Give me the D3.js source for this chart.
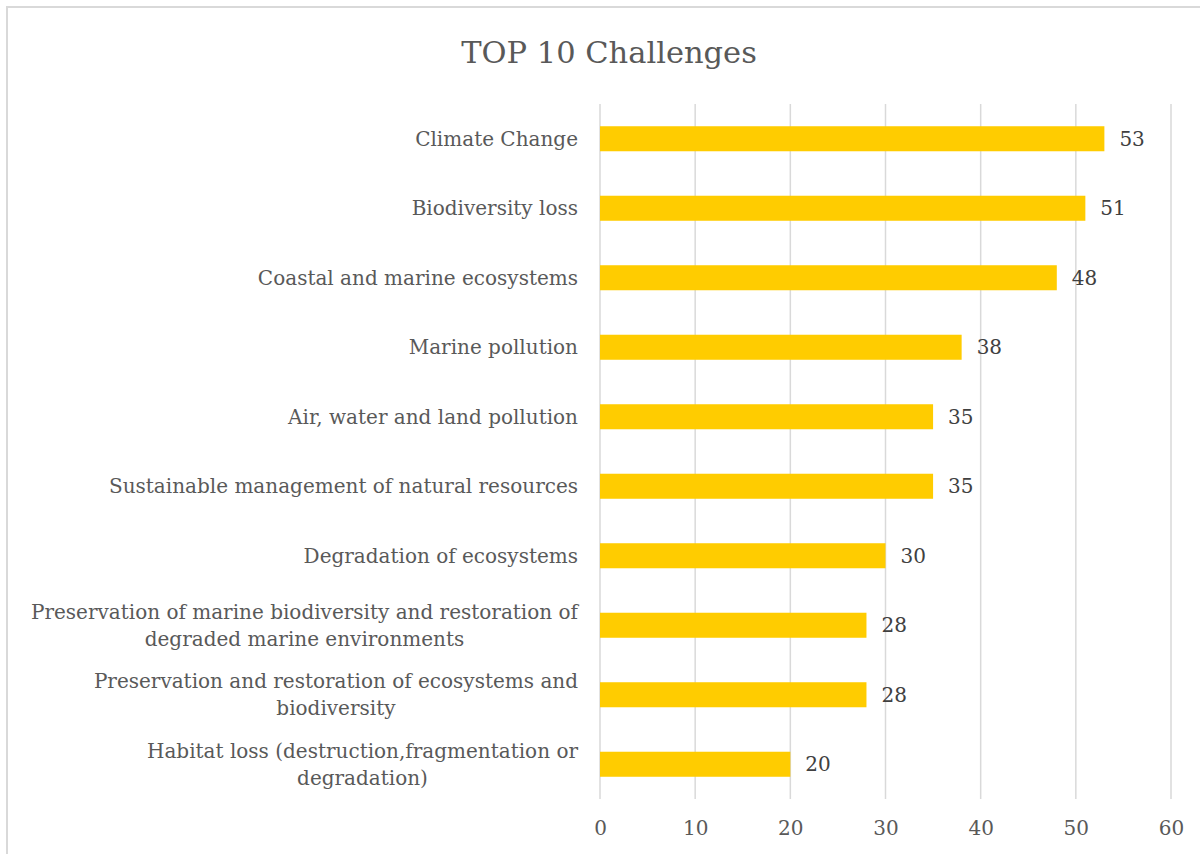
<!DOCTYPE html>
<html>
<head>
<meta charset="utf-8">
<script src="https://cdn.jsdelivr.net/npm/d3@7/dist/d3.min.js"></script>
<style>
  html, body { margin: 0; padding: 0; background: #fff; }
  svg { display: block; }
</style>
</head>
<body>
<svg id="chart" width="1200" height="854"></svg>
<script>
const categories = [
  "Climate Change",
  "Biodiversity loss",
  "Coastal and marine ecosystems",
  "Marine pollution",
  "Air, water and land pollution",
  "Sustainable management of natural resources",
  "Degradation of ecosystems",
  "Preservation of marine biodiversity and restoration of degraded marine environments",
  "Preservation and restoration of ecosystems and biodiversity",
  "Habitat loss (destruction,fragmentation or degradation)"
];
const values = [53, 51, 48, 38, 35, 35, 30, 28, 28, 20];
const xTicks = [0, 10, 20, 30, 40, 50, 60];
const title = "TOP 10 Challenges";

const FONT = "'DejaVu Serif', serif";
const FS = 20;
const svg = d3.select("#chart");

// chart border
svg.append("rect")
  .attr("x", 7).attr("y", 7).attr("width", 1200).attr("height", 900)
  .attr("fill", "none").attr("stroke", "#d9d9d9").attr("stroke-width", 2);

const x = d3.scaleLinear().domain([0, 60]).range([600, 1171]);
const y = d3.scaleBand().domain(categories).range([104, 799]).paddingInner(0.64).paddingOuter(0.32);

// gridlines
svg.append("g").selectAll("line").data(xTicks).join("line")
  .attr("x1", d => x(d)).attr("x2", d => x(d))
  .attr("y1", 104).attr("y2", 799)
  .attr("stroke", "#d9d9d9").attr("stroke-width", 1.5);

// bars
svg.append("g").selectAll("rect").data(values).join("rect")
  .attr("x", x(0))
  .attr("y", (d, i) => y(categories[i]))
  .attr("width", d => x(d) - x(0))
  .attr("height", y.bandwidth())
  .attr("fill", "#ffcc00");

// value labels
svg.append("g").selectAll("text").data(values).join("text")
  .attr("x", d => x(d) + 15)
  .attr("y", (d, i) => y(categories[i]) + y.bandwidth() / 2)
  .attr("dy", "0.35em")
  .attr("font-family", FONT).attr("font-size", FS)
  .attr("fill", "#404040")
  .text(d => d);

// x axis tick labels
const xAxis = d3.axisBottom(x).tickValues(xTicks).tickSize(0).tickPadding(0);
const gx = svg.append("g").attr("transform", "translate(0,821)").call(xAxis);
gx.select(".domain").remove();
gx.selectAll("text")
  .attr("font-family", FONT).attr("font-size", FS).attr("fill", "#595959");

// category labels (wrapped, block right-aligned, lines centred within block)
const labelRight = 578;
const maxW = 560;
const lineH = 27;
const gy = svg.append("g");
categories.forEach((c, i) => {
  const t = gy.append("text")
    .attr("font-family", FONT).attr("font-size", FS)
    .attr("fill", "#595959").attr("text-anchor", "middle");
  const words = c.split(" ");
  const lines = [];
  let cur = [];
  const probe = t.append("tspan");
  const measure = s => { probe.text(s); return probe.node().getComputedTextLength(); };
  words.forEach(w => {
    const test = cur.concat([w]).join(" ");
    if (measure(test) > maxW && cur.length) {
      lines.push(cur.join(" "));
      cur = [w];
    } else cur.push(w);
  });
  lines.push(cur.join(" "));
  const blockW = d3.max(lines, l => measure(l));
  probe.remove();
  const cx = labelRight - blockW / 2;
  const cy = y(c) + y.bandwidth() / 2;
  const y0 = cy - (lines.length - 1) * lineH / 2;
  lines.forEach((l, k) => {
    t.append("tspan").attr("x", cx).attr("y", y0 + k * lineH).attr("dy", "0.35em").text(l);
  });
});

// title
svg.append("text")
  .attr("x", 609).attr("y", 52).attr("dy", "0.35em")
  .attr("text-anchor", "middle")
  .attr("font-family", FONT).attr("font-size", 30.5)
  .attr("fill", "#595959")
  .text(title);
</script>
</body>
</html>
